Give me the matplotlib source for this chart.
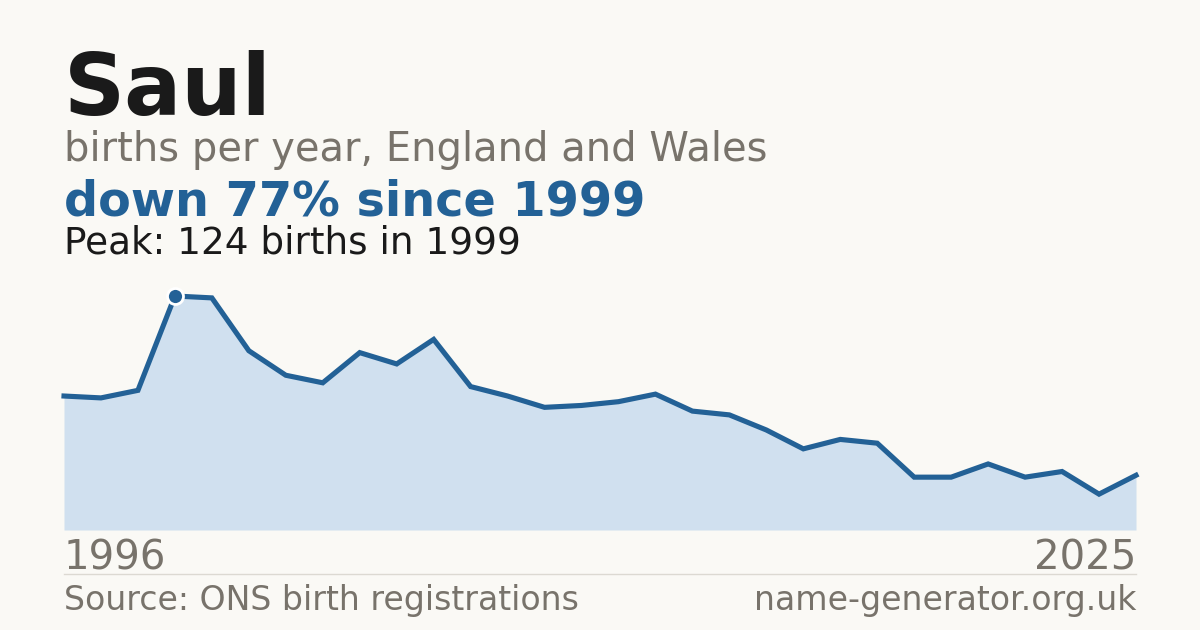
import matplotlib.pyplot as plt

years = list(range(1996, 2026))
births = [71, 70, 74, 124, 123, 95, 82, 78, 94, 88,
          101, 76, 71, 65, 66, 68, 72, 63, 61, 53,
          43, 48, 46, 28, 28, 35, 28, 31, 19, 29]

name = "Saul"
subtitle = "births per year, England and Wales"
headline = "down 77% since 1999"
peak_text = "Peak: 124 births in 1999"
source = "Source: ONS birth registrations"
site = "name-generator.org.uk"

bg = "#faf9f5"
blue = "#236196"
fill = "#d0e0ef"
grey = "#78736b"
dark = "#1a1a1a"

W, H = 1200, 630
fig = plt.figure(figsize=(12, 6.3), dpi=100, facecolor=bg)

def fy(px):
    return 1 - px / H

# chart area: x 64..1136 px, baseline at 530 px, peak at 296 px
ax = fig.add_axes([64 / W, fy(530), (1136 - 64) / W, (530 - 296) / H])
ax.set_facecolor(bg)
ax.fill_between(years, births, 0, color=fill, lw=0)
ax.plot(years, births, color=blue, lw=3.7, solid_joinstyle="miter", clip_on=False)
peak_i = births.index(max(births))
ax.plot(years[peak_i], births[peak_i], "o", ms=11.5, color=blue,
        mec="white", mew=2, clip_on=False, zorder=5)
ax.set_xlim(years[0], years[-1])
ax.set_ylim(0, max(births))
ax.axis("off")

fig.text(64 / W, fy(115), name, fontsize=61, fontweight="bold", color=dark, va="baseline")
fig.text(64 / W, fy(161), subtitle, fontsize=28.8, color=grey, va="baseline")
fig.text(64 / W, fy(215), headline, fontsize=34.4, fontweight="bold", color=blue, va="baseline")
fig.text(64 / W, fy(254), peak_text, fontsize=26.9, color=dark, va="baseline")

fig.text(64 / W, fy(569), str(years[0]), fontsize=29, color=grey, va="baseline")
fig.text(1136 / W, fy(569), str(years[-1]), fontsize=29, color=grey, va="baseline", ha="right")

fig.add_artist(plt.Line2D([64 / W, 1136 / W], [fy(574), fy(574)], color="#dcd9d2", lw=1))

fig.text(64 / W, fy(610), source, fontsize=23.9, color=grey, va="baseline")
fig.text(1136 / W, fy(610), site, fontsize=23.9, color=grey, va="baseline", ha="right")

fig.savefig("out.png", dpi=100, facecolor=bg)
